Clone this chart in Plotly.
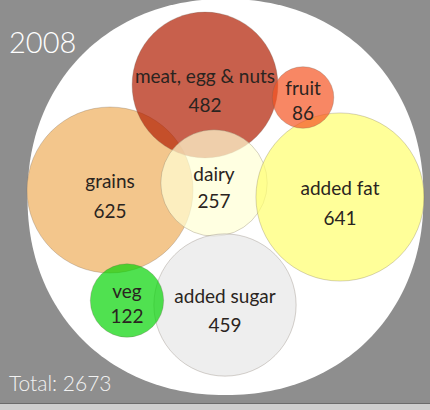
import numpy as np
import plotly.graph_objects as go

# ---- data ----
categories = ["meat, egg & nuts", "fruit", "grains", "dairy", "added fat", "veg", "added sugar"]
values = [482, 86, 625, 257, 641, 122, 459]
year = "2008"
total = 2673

# ---- layout / style (pixel coordinates, y down) ----
W, H = 430, 410
cx = [205, 303, 110, 214, 340, 127, 225]
cy = [85, 97.5, 190, 183, 197, 300.5, 305]
fills = ["rgba(176,28,0,0.7)", "rgba(245,84,34,0.7)", "rgba(243,198,140,1)",
         "rgba(255,255,212,0.7)", "rgba(255,255,109,0.7)", "rgba(5,212,5,0.7)",
         "rgba(231,231,231,0.7)"]
draw_order = [2, 0, 3, 4, 1, 6, 5]
PX_PER_SQRT = 3.32
BG = "#8e8e8e"
FONT = "Lato"

fig = go.Figure()

# white backdrop (slightly rounded-square disc)
t = np.linspace(0, 2 * np.pi, 241)
n = 2.12
ax_, ay_ = 198, 198
ox, oy = 225.5, 197
xs = ox + ax_ * np.sign(np.cos(t)) * np.abs(np.cos(t)) ** (2 / n)
ys = oy + ay_ * np.sign(np.sin(t)) * np.abs(np.sin(t)) ** (2 / n)
path = "M " + " L ".join(f"{x:.2f},{y:.2f}" for x, y in zip(xs, ys)) + " Z"
fig.add_shape(type="path", path=path, xref="x", yref="y",
              fillcolor="white", line=dict(width=0), layer="below")

# bottom strip
fig.add_shape(type="rect", x0=0, x1=W, y0=404, y1=H, xref="x", yref="y",
              fillcolor="#cfcfcf", line=dict(width=0), layer="below")
fig.add_shape(type="line", x0=0, x1=W, y0=403.5, y1=403.5, xref="x", yref="y",
              line=dict(color="#6c6c6c", width=1), layer="below")

# bubbles
fig.add_trace(go.Scatter(
    x=[cx[i] for i in draw_order],
    y=[cy[i] for i in draw_order],
    mode="markers",
    marker=dict(
        size=[np.sqrt(values[i]) for i in draw_order],
        sizemode="diameter",
        sizeref=1 / (2 * PX_PER_SQRT),
        color=[fills[i] for i in draw_order],
        opacity=1,
        line=dict(color="rgba(110,95,80,0.35)", width=0.8),
    ),
    hoverinfo="skip",
    showlegend=False,
))

# labels
radii = [np.sqrt(v) * PX_PER_SQRT for v in values]
name_y = [c - 7 for c in cy]
val_y = [c + 14 + 0.11 * r for c, r in zip(cy, radii)]
fig.add_trace(go.Scatter(
    x=cx + cx, y=name_y + val_y,
    mode="text",
    text=categories + [str(v) for v in values],
    textposition="middle center",
    textfont=dict(family=FONT, size=19, color="#2a2420"),
    hoverinfo="skip", showlegend=False,
))

fig.add_annotation(x=7, y=41, xref="x", yref="y", text=year, showarrow=False,
                   xanchor="left", yanchor="middle",
                   font=dict(family=FONT, size=29, color="white", weight=300))
fig.add_annotation(x=7, y=382, xref="x", yref="y", text=f"Total: {total}", showarrow=False,
                   xanchor="left", yanchor="middle",
                   font=dict(family=FONT, size=21, color="#f2f2f2", weight=300))

fig.update_layout(
    width=W, height=H,
    margin=dict(l=0, r=0, t=0, b=0),
    paper_bgcolor=BG, plot_bgcolor=BG,
    xaxis=dict(range=[0, W], visible=False, fixedrange=True),
    yaxis=dict(range=[H, 0], visible=False, fixedrange=True),
)

fig.write_html("out.html", config={"displayModeBar": False, "staticPlot": True},
               post_script="document.body.style.margin='0';document.body.style.overflow='hidden';")
